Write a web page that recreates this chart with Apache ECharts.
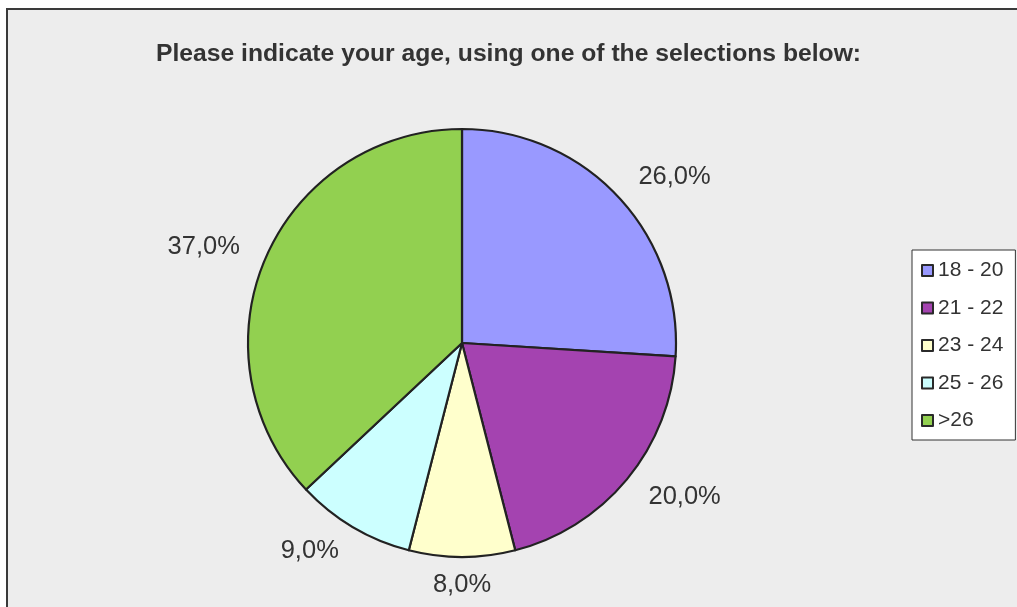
<!DOCTYPE html>
<html>
<head>
<meta charset="utf-8">
<script src="https://cdn.jsdelivr.net/npm/echarts@6/dist/echarts.min.js"></script>
<style>
  html, body { margin: 0; padding: 0; background: #ffffff; }
  #chart { width: 1017px; height: 607px; }
</style>
</head>
<body>
<div id="chart"></div>
<script>
// Age groups and their share of respondents (percent)
const categories = ['18 - 20', '21 - 22', '23 - 24', '25 - 26', '>26'];
const shares = [26.0, 20.0, 8.0, 9.0, 37.0];
const colors = ['#9999FF', '#A443B0', '#FFFFCC', '#CCFFFF', '#92D050'];
const titleText = 'Please indicate your age, using one of the selections below:';

const chart = echarts.init(document.getElementById('chart'), null, { renderer: 'canvas' });

const data = categories.map((name, i) => ({
  name: name,
  value: shares[i],
  itemStyle: { color: colors[i] }
}));

chart.setOption({
  animation: false,
  backgroundColor: '#ffffff',
  graphic: [{
    type: 'rect',
    z: -10,
    shape: { x: 7, y: 9, width: 1100, height: 700 },
    style: { fill: '#EDEDED', stroke: '#3a3a3a', lineWidth: 2 }
  }],
  title: {
    text: titleText,
    left: 'center',
    top: 37,
    textStyle: {
      fontFamily: 'Liberation Sans, Arial, sans-serif',
      fontWeight: 'bold',
      fontSize: 24.7,
      color: '#333333'
    }
  },
  legend: {
    orient: 'vertical',
    left: 912,
    top: 250,
    padding: [10, 12, 9, 9],
    backgroundColor: '#ffffff',
    borderColor: '#333333',
    borderWidth: 1,
    itemWidth: 11,
    itemHeight: 11,
    itemGap: 16.5,
    icon: 'rect',
    itemStyle: { borderColor: '#2a2a2a', borderWidth: 2 },
    textStyle: {
      fontFamily: 'Liberation Sans, Arial, sans-serif',
      fontSize: 21,
      lineHeight: 20,
      color: '#333333'
    },
    data: categories
  },
  series: [{
    type: 'pie',
    center: [462, 343],
    radius: 214,
    startAngle: 90,
    clockwise: true,
    avoidLabelOverlap: false,
    data: data,
    itemStyle: { borderColor: '#222222', borderWidth: 2.2 },
    emphasis: { disabled: true },
    label: {
      show: true,
      position: 'outside',
      distanceToLabelLine: 0,
      formatter: p => p.value.toFixed(1).replace('.', ',') + '%',
      fontFamily: 'Liberation Sans, Arial, sans-serif',
      fontSize: 25.5,
      color: '#333333'
    },
    labelLine: { show: false, length: 28, length2: 0 },
    // labels sitting straight below or above the pie are centred on their anchor
    labelLayout: function (p) {
      const pts = p.labelLinePoints;
      if (!pts || pts.length < 2) return {};
      const vx = pts[1][0] - pts[0][0];
      const vy = pts[1][1] - pts[0][1];
      const len = Math.hypot(vx, vy) || 1;
      if (Math.abs(vx / len) < 0.15) {
        const ax = pts[pts.length - 1][0];
        return { dx: ax - (p.labelRect.x + p.labelRect.width / 2) };
      }
      return {};
    }
  }]
});
</script>
</body>
</html>
